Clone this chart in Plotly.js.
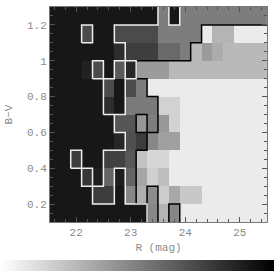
<!DOCTYPE html>
<html><head><meta charset="utf-8">
<script src="https://cdn.plot.ly/plotly-3.0.1.min.js"></script>
<style>html,body{margin:0;padding:0;background:#fff;overflow:hidden}#c{width:274px;height:271px}</style>
</head><body><div id="c"></div>
<script>
const magCenters = [21.6,21.8,22.0,22.2,22.4,22.6,22.8,23.0,23.2,23.4,23.6,23.8,24.0,24.2,24.4,24.6,24.8,25.0,25.2,25.4];
const colorCenters = [0.15,0.25,0.35,0.45,0.55,0.65,0.75,0.85,0.95,1.05,1.15,1.25];
const D = 23;
// gray level of each cell, bottom row first
const row015 = [D,D,D,D,D,D,D,D,D,135,180,135,235,235,235,235,235,235,235,235];
const row025 = [D,D,D,D,60,60,D,135,175,140,205,168,200,200,235,235,235,235,235,235];
const row035 = [D,D,D,55,30,100,30,100,165,207,190,235,235,235,235,235,235,235,235,235];
const row045 = [D,D,60,D,D,65,65,88,195,215,215,235,235,235,235,235,235,235,235,235];
const row055 = [D,D,D,D,D,D,38,80,60,135,160,160,235,235,235,235,235,235,235,235];
const row065 = [D,D,D,D,D,D,85,85,150,125,152,210,235,235,235,235,235,235,235,235];
const row075 = [D,D,D,D,D,45,D,122,122,122,210,210,235,235,235,235,235,235,235,235];
const row085 = [D,D,D,D,D,75,D,75,125,235,235,235,235,235,235,235,235,235,235,235];
const row095 = [D,D,D,33,75,D,90,40,155,155,155,185,185,185,185,185,185,185,185,185];
const row105 = [D,D,D,D,D,D,45,62,62,62,105,105,125,185,155,172,185,185,185,185];
const row115 = [D,D,D,75,D,D,75,75,75,75,125,125,125,125,235,180,180,235,235,235];
const row125 = [D,D,D,D,D,D,D,D,D,D,125,D,125,125,125,125,125,125,125,125];
const grayRows = [row015,row025,row035,row045,row055,row065,row075,row085,row095,row105,row115,row125];

// contour paths as [column edge, row edge] pairs on the cell grid
const whitePaths = [
 [[9,0],[9,1],[7,1],[7,3],[6,3],[6,1],[4,1],[4,3],[3,3],[3,2],[5,2],[5,4],[7,4],[7,5],[6,5],[6,6]],
 [[5,6],[7,6],[7,8],[8,8],[8,9],[6,9],[6,8],[5,8],[5,6]],
 [[7,8],[7,10],[6,10],[6,11],[10,11],[10,12]],
 [[4,8],[5,8],[5,9],[4,9],[4,8]],
 [[2,3],[3,3],[3,4],[2,4],[2,3]],
 [[3,10],[4,10],[4,11],[3,11],[3,10]],
 [[11,12],[11,11],[12,11],[12,12]]
];
const blackPaths = [
 [[20,11],[14,11],[14,10],[13,10],[13,9],[8,9],[8,8],[9,8],[9,7],[10,7],[10,5],[8,5],[8,6],[9,6],[9,4],[8,4],[8,1],[9,1]],
 [[9,0],[9,2],[10,2],[10,0]],
 [[11,0],[11,1],[12,1],[12,0]]
];
const xTicks = [22,23,24,25];
const yTicks = [0.2,0.4,0.6,0.8,1,1.2];
const xTitle = 'R (mag)';
const yTitle = 'B\u2212V';

const xEdge = c => magCenters[0] - 0.1 + 0.2*c;
const yEdge = r => colorCenters[0] - 0.05 + 0.1*r;
function lineTrace(paths, color){
  const x=[], y=[];
  paths.forEach(p=>{p.forEach(n=>{x.push(xEdge(n[0]));y.push(yEdge(n[1]));});x.push(null);y.push(null);});
  return {type:'scatter',mode:'lines',x,y,line:{color,width:1.5},hoverinfo:'skip',showlegend:false,cliponaxis:true};
}
const F = {family:'"Liberation Mono","DejaVu Sans Mono",monospace',size:11,color:'#8c8c8c'};
const heat = {type:'heatmap',x:magCenters,y:colorCenters,z:grayRows.map(r=>r.map(v=>255-v)),
  zmin:0,zmax:255,zsmooth:false,colorscale:[[0,'#ffffff'],[1,'#000000']],
  colorbar:{orientation:'h',xref:'container',yref:'container',x:0,xanchor:'left',y:0,yanchor:'bottom',
    lenmode:'pixels',len:274,thicknessmode:'pixels',thickness:11,xpad:0,ypad:0,outlinewidth:0,borderwidth:0,
    ticks:'',showticklabels:false}};
const axisBase = {showgrid:false,zeroline:false,showline:true,linecolor:'#777',linewidth:1,mirror:'allticks',
  ticks:'inside',tickcolor:'#555',tickwidth:1,tickfont:F,layer:'above traces'};
const layout = {
  width:274,height:271,paper_bgcolor:'#fff',plot_bgcolor:'#fff',showlegend:false,
  margin:{l:50,r:7.3,t:6.5,b:49,pad:0},
  xaxis:Object.assign({},axisBase,{range:[21.52,25.5],tickmode:'array',tickvals:xTicks,ticklen:5,
    minor:{dtick:0.2,ticks:'inside',ticklen:3,tickcolor:'#555',showgrid:false},
    title:{text:xTitle,font:F,standoff:5}}),
  yaxis:Object.assign({},axisBase,{range:[0.1,1.3],tickmode:'array',tickvals:yTicks,ticklen:5,
    minor:{dtick:0.05,ticks:'inside',ticklen:3,tickcolor:'#555',showgrid:false},
    title:{text:yTitle,font:F,standoff:12}})
};
Plotly.newPlot('c',[heat,lineTrace(blackPaths,'#000'),lineTrace(whitePaths,'#eee')],layout,{displayModeBar:false,staticPlot:true});
</script></body></html>
